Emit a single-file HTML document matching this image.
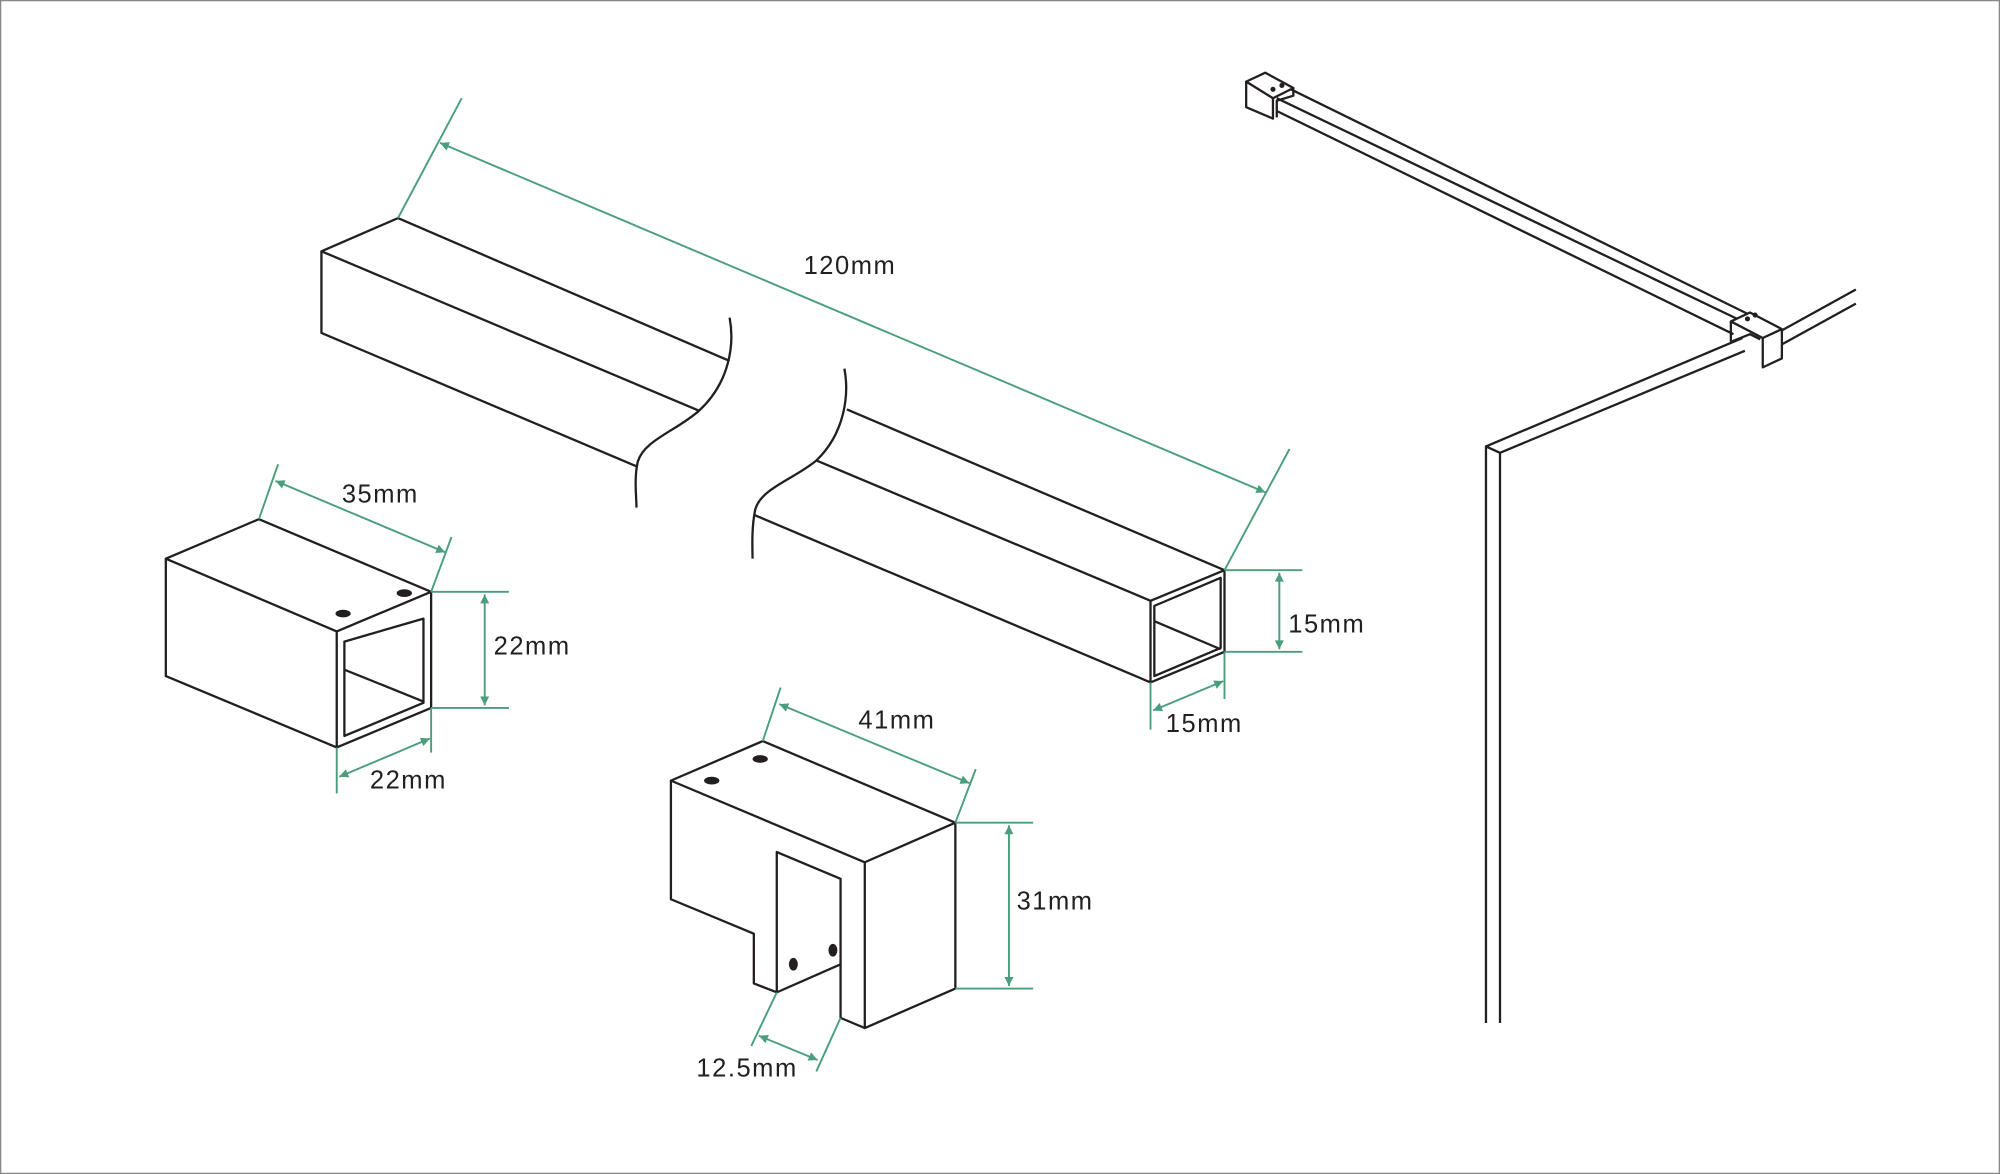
<!DOCTYPE html>
<html><head><meta charset="utf-8"><style>
html,body{margin:0;padding:0;background:#fff}
svg{display:block}
text{font-family:"Liberation Sans",sans-serif;font-size:20px;letter-spacing:1.2px;fill:#231f20}
</style></head><body>
<svg width="2000" height="1174" viewBox="0 0 1568 920.4" preserveAspectRatio="none" xmlns="http://www.w3.org/2000/svg">
<defs>
<marker id="a" viewBox="0 0 10 10" refX="10" refY="5" markerWidth="9" markerHeight="7" orient="auto-start-reverse" markerUnits="userSpaceOnUse"><path d="M0,0L10,5L0,10z" fill="#4a9e7c"/></marker>
</defs>
<rect x="0.5" y="0.5" width="1567" height="919.4" fill="none" stroke="#888" stroke-width="1"/>
<g fill="none" stroke="#231f20" stroke-width="1.8" stroke-linejoin="round">
<path d="M572,283L312,171L252,197L252,261L500,366"/>
<path d="M252,197L548,322"/>
<path d="M572,249C576,270 572,300 548,322C530,338 505,345 500,362C497,375 499,390 499,398"/>
<path d="M662,289C666,310 662,340 640,361C622,376 596,383 592,400C589,415 590,430 590,438"/>
<path d="M664,321L960,447L960,511L902,535L592,404"/>
<path d="M640,361L902,471L960,447"/>
<path d="M902,471L902,535"/>
<path d="M905,475L957,453L957,508L905,530Z"/>
<path d="M905,487L957,509"/>
<path d="M130,438L203,407L338,464L264,495Z"/>
<path d="M130,438L130,530L264,586L264,495"/>
<path d="M338,464L338,555L264,586"/>
<path d="M270,503L332,485L332,551L270,577Z"/>
<path d="M270,525L332,550"/>
<path d="M526,612L598,581L749,645L678,676Z"/>
<path d="M526,612L526,705L591,732L591,771L609,778L609,668L659,689L659,756L609,778"/>
<path d="M659,756L659,798L678,806L678,676"/>
<path d="M749,645L749,775L678,806"/>
<path d="M1165,802L1165,350L1176,355L1176,802"/>
<path d="M1165,350L1366,265"/>
<path d="M1176,355L1368,275"/>
<path d="M1397,259L1455,227M1397,270L1455,238"/>
<path d="M1001,77L1362,250M1001,87L1359,262M1012,70L1370,246"/>
<path d="M977,64L992,57L1014,69L998,77Z M977,64L977,84L998,93L998,77 M1014,69L1014,75L1001,79L1001,92"/>
<path d="M1357,252L1372,245L1397,258L1382,265Z M1357,252L1357,268 M1382,265L1382,288L1397,281L1397,258 M1357,268L1372,262L1380,266"/>
</g>
<g fill="#231f20">
<ellipse cx="269" cy="481" rx="6" ry="3"/><ellipse cx="317" cy="465" rx="6" ry="3"/>
<ellipse cx="558" cy="612" rx="6" ry="3"/><ellipse cx="596" cy="595" rx="6" ry="3"/>
<ellipse cx="622" cy="756" rx="3.5" ry="5"/><ellipse cx="653" cy="745" rx="3.5" ry="5"/>
<circle cx="998" cy="70" r="2"/><circle cx="1005" cy="67" r="2"/>
<circle cx="1370" cy="250" r="2"/><circle cx="1376" cy="247" r="2"/>
</g>
<g fill="none" stroke="#4a9e7c" stroke-width="1.5">
<path d="M312,171L362,77M960,447L1011,352"/>
<path d="M345,112L992,386" marker-start="url(#a)" marker-end="url(#a)"/>
<path d="M960,447L1021,447M960,511L1021,511"/>
<path d="M1003,449L1003,509" marker-start="url(#a)" marker-end="url(#a)"/>
<path d="M902,535L902,572M960,511L960,548"/>
<path d="M904,557L959,534" marker-start="url(#a)" marker-end="url(#a)"/>
<path d="M203,407L218,364M338,464L354,421"/>
<path d="M216,377L349,433" marker-start="url(#a)" marker-end="url(#a)"/>
<path d="M338,464L399,464M338,555L399,555"/>
<path d="M380,466L380,553" marker-start="url(#a)" marker-end="url(#a)"/>
<path d="M264,586L264,622M338,555L338,590"/>
<path d="M266,609L337,579" marker-start="url(#a)" marker-end="url(#a)"/>
<path d="M598,581L612,539M749,645L765,603"/>
<path d="M611,552L760,614" marker-start="url(#a)" marker-end="url(#a)"/>
<path d="M749,645L810,645M749,775L810,775"/>
<path d="M791,647L791,773" marker-start="url(#a)" marker-end="url(#a)"/>
<path d="M609,778L589,820M659,798L640,840"/>
<path d="M595,812L641,831" marker-start="url(#a)" marker-end="url(#a)"/>
</g>
<text x="630" y="215">120mm</text>
<text x="1010" y="496">15mm</text>
<text x="914" y="574">15mm</text>
<text x="268" y="394">35mm</text>
<text x="387" y="513">22mm</text>
<text x="290" y="618">22mm</text>
<text x="673" y="571">41mm</text>
<text x="797" y="713">31mm</text>
<text x="546" y="844">12.5mm</text>
</svg>
</body></html>
